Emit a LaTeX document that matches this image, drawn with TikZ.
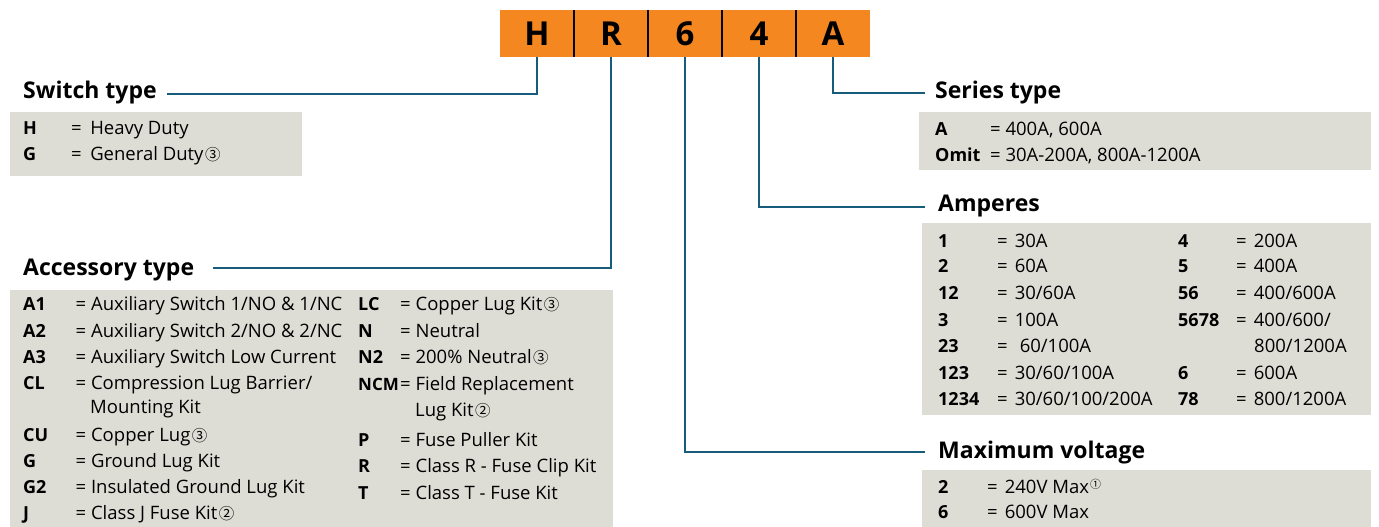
\documentclass[tikz,border=0pt]{standalone}
\usepackage{fontspec}
\setmainfont{Open Sans}
\newfontfamily\symfont{Noto Sans CJK SC}
\definecolor{codeorange}{RGB}{245,135,32}
\definecolor{connblue}{RGB}{24,92,124}
\definecolor{panelgray}{RGB}{222,221,213}
\newcommand{\cnum}[1]{\kern1.5pt{\symfont\fontsize{15.5}{15.5}\selectfont #1}}
\newcommand{\eqg}[1]{=\hspace{#1}}
\tikzset{
  codecell/.style={fill=codeorange, minimum width=74pt, minimum height=47pt, inner sep=0pt,
    font=\fontsize{33}{33}\selectfont\bfseries},
  divider/.style={draw=black, line width=2pt},
  ttl/.style={anchor=base west, inner sep=0pt, font=\fontsize{23}{26}\selectfont\bfseries},
  key/.style={anchor=base west, inner sep=0pt, font=\fontsize{18}{20}\selectfont\bfseries},
  val/.style={anchor=base west, inner sep=0pt, font=\fontsize{18.5}{20}\selectfont},
  conn/.style={draw=connblue, line width=2.5pt},
  panel/.style={fill=panelgray},
}
\begin{document}
\begin{tikzpicture}[x=1pt,y=-1pt]
\useasboundingbox (0,0) rectangle (1379,527);
% panels
\fill[panel] (10,112) rectangle (302,176);
\fill[panel] (10,290) rectangle (613,527);
\fill[panel] (919,112) rectangle (1371,170);
\fill[panel] (922,223) rectangle (1371,415);
\fill[panel] (922,470) rectangle (1371,527);
% code bar
\node[codecell] (cH) at (537,33.5) {H};
\node[codecell] (cR) at (611,33.5) {R};
\node[codecell] (c6) at (685,33.5) {6};
\node[codecell] (c4) at (759,33.5) {4};
\node[codecell] (cA) at (833,33.5) {A};
\draw[divider] (cH.north east) -- (cH.south east);
\draw[divider] (cR.north east) -- (cR.south east);
\draw[divider] (c6.north east) -- (c6.south east);
\draw[divider] (c4.north east) -- (c4.south east);
% titles
\node[ttl] (tSwitch) at (23,99) {Switch type};
\node[ttl] (tAcc) at (23,275) {Accessory type};
\node[ttl] (tSeries) at (935,99) {Series type};
\node[ttl] (tAmp) at (938,211) {Amperes};
\node[ttl] (tVolt) at (938,458) {Maximum voltage};
% connector ends
\coordinate (eSwitch) at (167,94);
\coordinate (eAcc) at (213,268);
\coordinate (eSeries) at (925,93);
\coordinate (eAmp) at (925,207);
\coordinate (eVolt) at (925,452);
\draw[conn] (cH.south) |- (eSwitch);
\draw[conn] (cR.south) |- (eAcc);
\draw[conn] (c6.south) |- (eVolt);
\draw[conn] (c4.south) |- (eAmp);
\draw[conn] (cA.south) |- (eSeries);
% switch type
\node[key] (sk1) at (23,134) {H};
\node[val] (sv1) at (71,134) {\eqg{8.5pt}Heavy Duty};
\node[key] (sk2) at (23,160) {G};
\node[val] (sv2) at (71,160) {\eqg{8.5pt}General Duty\cnum{③}};
% accessory left
\node[key] (ak1) at (23,310) {A1};
\node[val] (av1) at (75.5,310) {= Auxiliary Switch 1/NO \& 1/NC};
\node[key] (ak2) at (23,337) {A2};
\node[val] (av2) at (75.5,337) {= Auxiliary Switch 2/NO \& 2/NC};
\node[key] (ak3) at (23,363) {A3};
\node[val] (av3) at (75.5,363) {= Auxiliary Switch Low Current};
\node[key] (ak4) at (23,389) {CL};
\node[val] (av4) at (75.5,389) {= Compression Lug Barrier/};
\node[val] (av4b) at (90,413) {Mounting Kit};
\node[key] (ak5) at (23,441) {CU};
\node[val] (av5) at (75.5,441) {= Copper Lug\cnum{③}};
\node[key] (ak6) at (23,467) {G};
\node[val] (av6) at (75.5,467) {= Ground Lug Kit};
\node[key] (ak7) at (23,493) {G2};
\node[val] (av7) at (75.5,493) {= Insulated Ground Lug Kit};
\node[key] (ak8) at (23,519) {J};
\node[val] (av8) at (75.5,519) {= Class J Fuse Kit\cnum{②}};
% accessory right
\node[key] (bk1) at (358,310) {LC};
\node[val] (bv1) at (400,310) {= Copper Lug Kit\cnum{③}};
\node[key] (bk2) at (358,337) {N};
\node[val] (bv2) at (400,337) {= Neutral};
\node[key] (bk3) at (358,363) {N2};
\node[val] (bv3) at (400,363) {= 200\% Neutral\cnum{③}};
\node[key, font=\fontsize{17}{20}\selectfont\bfseries] (bk4) at (358,390) {NCM};
\node[val] (bv4) at (400,390) {= Field Replacement};
\node[val] (bv4b) at (415,416) {Lug Kit\cnum{②}};
\node[key] (bk5) at (358,446) {P};
\node[val] (bv5) at (400,446) {= Fuse Puller Kit};
\node[key] (bk6) at (358,472) {R};
\node[val] (bv6) at (400,472) {= Class R - Fuse Clip Kit};
\node[key] (bk7) at (358,499) {T};
\node[val] (bv7) at (400,499) {= Class T - Fuse Kit};
% series
\node[key] (rk1) at (935,135) {A};
\node[val] (rv1) at (990,135) {= 400A, 600A};
\node[key] (rk2) at (935,161) {Omit};
\node[val] (rv2) at (990,161) {= 30A-200A, 800A-1200A};
% amperes left
\node[key] (mk1) at (938,247) {1};
\node[val] (mv1) at (997,247) {\eqg{7pt}30A};
\node[key] (mk2) at (938,272) {2};
\node[val] (mv2) at (997,272) {\eqg{7pt}60A};
\node[key] (mk3) at (938,299) {12};
\node[val] (mv3) at (997,299) {\eqg{7pt}30/60A};
\node[key] (mk4) at (938,326) {3};
\node[val] (mv4) at (997,326) {\eqg{7pt}100A};
\node[key] (mk5) at (938,352) {23};
\node[val] (mv5) at (997,352) {\eqg{12pt}60/100A};
\node[key] (mk6) at (938,379) {123};
\node[val] (mv6) at (997,379) {\eqg{7pt}30/60/100A};
\node[key] (mk7) at (938,405) {1234};
\node[val] (mv7) at (997,405) {\eqg{7pt}30/60/100/200A};
% amperes right
\node[key] (nk1) at (1178,247) {4};
\node[val] (nv1) at (1236,247) {\eqg{7pt}200A};
\node[key] (nk2) at (1178,272) {5};
\node[val] (nv2) at (1236,272) {\eqg{7pt}400A};
\node[key] (nk3) at (1178,299) {56};
\node[val] (nv3) at (1236,299) {\eqg{7pt}400/600A};
\node[key] (nk4) at (1178,326) {5678};
\node[val] (nv4) at (1236,326) {\eqg{7pt}400/600/};
\node[val] (nv4b) at (1254,352) {800/1200A};
\node[key] (nk5) at (1178,379) {6};
\node[val] (nv5) at (1236,379) {\eqg{7pt}600A};
\node[key] (nk6) at (1178,405) {78};
\node[val] (nv6) at (1236,405) {\eqg{7pt}800/1200A};
% max voltage
\node[key] (vk1) at (938,493) {2};
\node[val] (vv1) at (987,493) {\eqg{7pt}240V Max\raisebox{5pt}{\kern1pt\symfont\fontsize{11}{11}\selectfont ①}};
\node[key] (vk2) at (938,518) {6};
\node[val] (vv2) at (987,518) {\eqg{7pt}600V Max};
\end{tikzpicture}
\end{document}
